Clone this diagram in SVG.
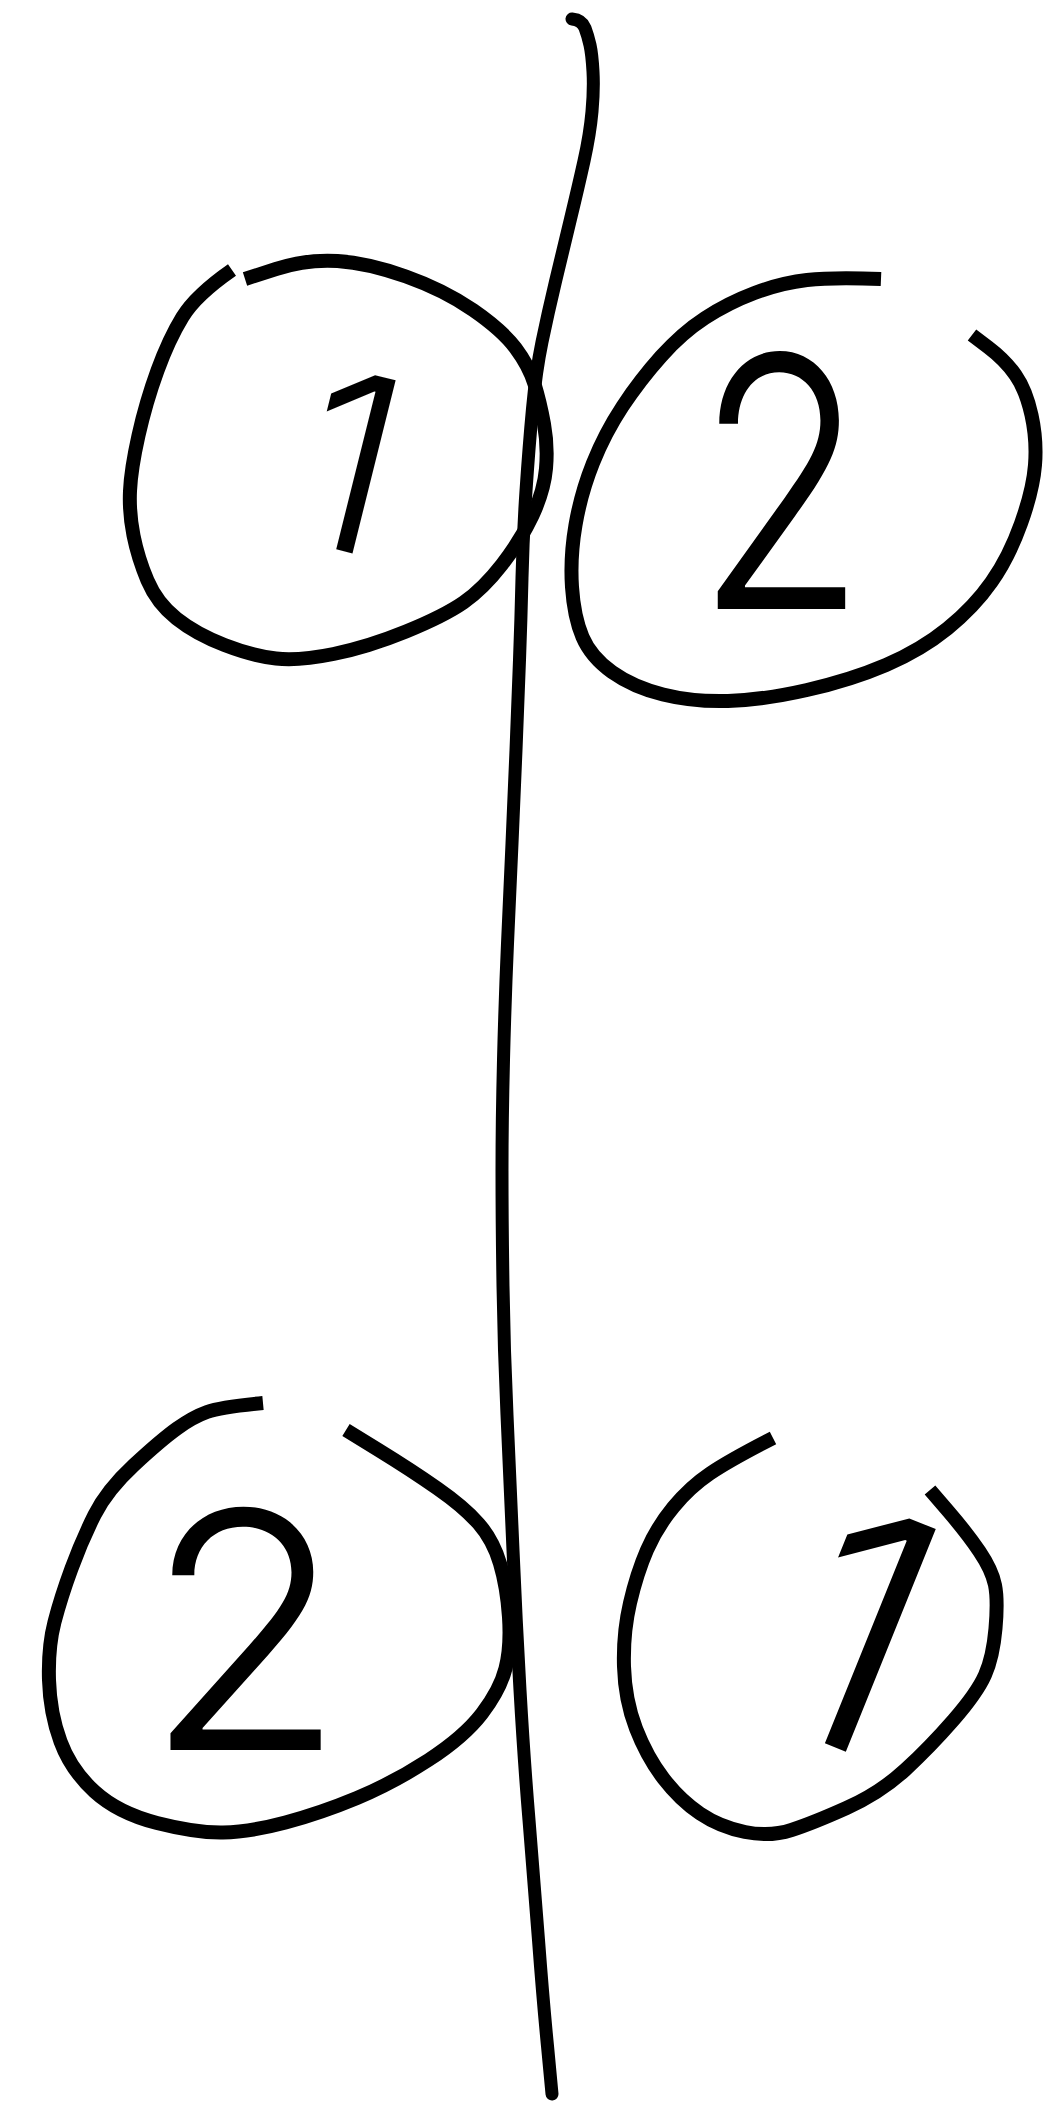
<svg xmlns="http://www.w3.org/2000/svg" width="1050" height="2104" viewBox="0 0 1050 2104">
<style>
.ink{fill:none;stroke:#000;stroke-width:14;stroke-linejoin:round;stroke-linecap:butt}
.digit{font-family:Inter,"Open Sans","Noto Sans","Liberation Sans",sans-serif;font-weight:300;fill:#000;text-anchor:middle}
</style>
<rect width="1050" height="2104" fill="#fff"/>
<g id="connectors">
<path class="ink" style="stroke-linecap:round;stroke-width:13" d="M 572 19 Q 582 20 585 28 Q 588 36 590 45 Q 592 54 593 71.5 Q 594 89 592 111.5 Q 590 134 584 161 Q 578 188 570.5 219 Q 563 250 555.5 281.5 Q 548 313 542 342 Q 536 371 532.5 408.5 Q 529 446 526 491 Q 523 536 522 578 Q 521 620 519.5 660 Q 518 700 516 750 Q 514 800 512 843.5 Q 510 887 507.5 943.5 Q 505 1000 503.5 1060 Q 502 1120 502 1171 Q 502 1222 503 1286 Q 504 1350 507 1415 Q 510 1480 513 1550 Q 516 1620 520 1690 Q 524 1760 529 1820 Q 534 1880 538.5 1940 Q 543 2000 547.5 2046 L 552 2094"/>
</g>
<g id="node-1-top">
<path class="ink" d="M 232 270 Q 196 295 182.5 317 Q 169 339 157.5 370.5 Q 146 402 138.5 435.5 Q 131 469 130 491 Q 129 513 133.5 535.5 Q 138 558 147.5 580.5 Q 157 603 176.5 618.5 Q 196 634 224.5 645 Q 253 656 276 658.5 Q 299 661 333.5 654 Q 368 647 406 631.5 Q 444 616 463.5 602.5 Q 483 589 502 564.5 Q 521 540 532.5 515.5 Q 544 491 546 468.5 Q 548 446 544 424 Q 540 402 534.5 384 Q 529 366 515.5 348 Q 502 330 473 310 Q 444 290 406 276.5 Q 368 263 337.5 261 Q 307 259 276 269 L 245 279"/>
<text class="digit" font-size="245" transform="translate(350 461) rotate(14)" x="0" y="89">1</text>
</g>
<g id="node-2-top">
<path class="ink" d="M 881 279 Q 833 277 807 280 Q 781 283 754.5 293 Q 728 303 705 318 Q 682 333 661 356.5 Q 640 380 622.5 406.5 Q 605 433 593 463 Q 581 493 575.5 525 Q 570 557 572 587 Q 574 617 582.5 637 Q 591 657 612 672 Q 633 687 663 694.5 Q 693 702 728 701 Q 763 700 807 690 Q 851 680 886 665 Q 921 650 947.5 628.5 Q 974 607 991.5 582 Q 1009 557 1021 523.5 Q 1033 490 1035 465 Q 1037 440 1031.5 415 Q 1026 390 1015.5 375 Q 1005 360 988.5 347.5 L 972 335"/>
<text class="digit" font-size="350" transform="translate(781 482) scale(0.8 1)" x="0" y="127">2</text>
</g>
<g id="node-2-bottom">
<path class="ink" d="M 263 1403 Q 221 1407 207 1412 Q 193 1417 177 1428.5 Q 161 1440 134 1465 Q 107 1490 94.5 1515 Q 82 1540 71.5 1568.5 Q 61 1597 54.5 1622 Q 48 1647 49 1680 Q 50 1713 60.5 1741.5 Q 71 1770 94.5 1791.5 Q 118 1813 157 1823 Q 196 1833 223 1832.5 Q 250 1832 285.5 1822.5 Q 321 1813 357 1798 Q 393 1783 428.5 1760 Q 464 1737 482 1713.5 Q 500 1690 505.5 1668.5 Q 511 1647 509 1617 Q 507 1587 500 1563.5 Q 493 1540 478.5 1523.5 Q 464 1507 437.5 1488.5 Q 411 1470 378.5 1450 L 346 1430"/>
<text class="digit" font-size="330" transform="translate(245 1630)" x="0" y="120">2</text>
</g>
<g id="node-1-bottom">
<path class="ink" d="M 773 1438 Q 730 1460 710 1473.5 Q 690 1487 673.5 1507 Q 657 1527 647 1550 Q 637 1573 630 1603 Q 623 1633 624 1666.5 Q 625 1700 636 1728.5 Q 647 1757 663.5 1778.5 Q 680 1800 700 1813.5 Q 720 1827 745 1832 Q 770 1837 791.5 1830 Q 813 1823 846.5 1808 Q 880 1793 905 1770 Q 930 1747 953.5 1720 Q 977 1693 985 1675 Q 993 1657 995.5 1628.5 Q 998 1600 995 1585 Q 992 1570 979.5 1551.5 Q 967 1533 948.5 1511.5 L 930 1490"/>
<text class="digit" font-size="330" transform="translate(860 1628) rotate(22)" x="0" y="120">1</text>
</g>
</svg>
